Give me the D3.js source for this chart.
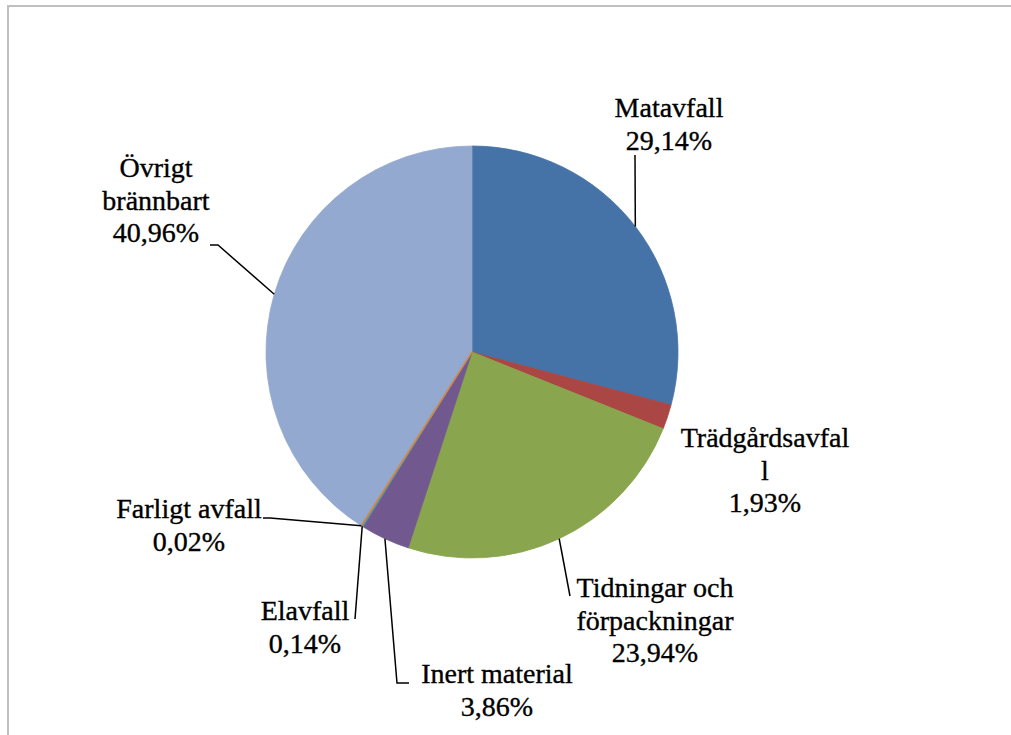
<!DOCTYPE html>
<html>
<head>
<meta charset="utf-8">
<script src="https://cdn.jsdelivr.net/npm/d3@7"></script>
<style>
  html, body { margin: 0; padding: 0; background: #fff; overflow: hidden; }
  text { font-family: "Liberation Serif", "DejaVu Serif", serif; fill: #000; stroke: #000; stroke-width: 0.35px; }
</style>
</head>
<body>
<div id="chart"></div>
<script>
// Data
const categories = ['Matavfall', 'Trädgårdsavfall', 'Tidningar och förpackningar', 'Inert material', 'Elavfall', 'Farligt avfall', 'Övrigt brännbart'];
const values = [29.14, 1.93, 23.94, 3.86, 0.14, 0.02, 40.96];
const valueLabels = ['29,14%', '1,93%', '23,94%', '3,86%', '0,14%', '0,02%', '40,96%'];
// label text lines as wrapped in the original
const labelLines = [
    ['Matavfall'],
    ['Trädgårdsavfal', 'l'],
    ['Tidningar och', 'förpackningar'],
    ['Inert material'],
    ['Elavfall'],
    ['Farligt avfall'],
    ['Övrigt', 'brännbart']
];
const colors = ['#4572A7', '#AA4643', '#89A54E', '#71588F', '#4198AF', '#DB843D', '#93A9CF'];

// Label layout (relative to pie centre): text centre x, first baseline y, leader knee/end
const labelLayout = [
    { x: 197, y: -235, leader: [[163, -197]] },
    { x: 293, y: 95, leader: null },
    { x: 183, y: 245, leader: [[98, 244]] },
    { x: 25, y: 331, leader: [[-75, 331], [-63, 331]] },
    { x: -167, y: 268, leader: [[-117, 267]] },
    { x: -283, y: 166, leader: [[-202, 166], [-209, 166]] },
    { x: -316, y: -175, leader: [[-254, -107], [-262, -107]] }
];

const W = 1011, H = 735;
const cx = 472, cy = 352, radius = 206;
const lineH = 32.5;

const svg = d3.select('#chart')
    .append('svg')
    .attr('width', W)
    .attr('height', H);

// chart area border (runs off the right and bottom edges)
svg.append('rect')
    .attr('x', 8)
    .attr('y', 6)
    .attr('width', 1200)
    .attr('height', 1000)
    .attr('fill', 'none')
    .attr('stroke', '#bfbfbf')
    .attr('stroke-width', 2);

const g = svg.append('g')
    .attr('transform', `translate(${cx},${cy})`);

const data = categories.map((c, i) => ({ name: c, value: values[i], i }));

const pie = d3.pie()
    .sort(null)
    .value(d => d.value);

const arc = d3.arc()
    .innerRadius(0)
    .outerRadius(radius);

const edge = d3.arc()
    .innerRadius(radius)
    .outerRadius(radius);

const arcs = pie(data);

g.selectAll('.slice')
    .data(arcs)
    .enter()
    .append('path')
    .attr('class', 'slice')
    .attr('d', arc)
    .attr('fill', d => colors[d.data.i])
    .attr('stroke', d => colors[d.data.i])
    .attr('stroke-width', 0.8);

// the tiniest slice shows as a thin line on top
g.selectAll('.slice')
    .filter(d => d.data.name === 'Farligt avfall')
    .attr('stroke-width', 1.4)
    .raise();

// Leader lines
g.selectAll('.leader')
    .data(arcs.filter(d => labelLayout[d.data.i].leader))
    .enter()
    .append('polyline')
    .attr('class', 'leader')
    .attr('points', d => {
        const p = edge.centroid(d);
        return [p].concat(labelLayout[d.data.i].leader).map(q => q.join(',')).join(' ');
    })
    .attr('fill', 'none')
    .attr('stroke', '#000')
    .attr('stroke-width', 1.5);

// Labels
const labels = g.selectAll('.label')
    .data(arcs)
    .enter()
    .append('text')
    .attr('class', 'label')
    .attr('text-anchor', 'middle')
    .attr('font-size', 28);

labels.each(function(d) {
    const t = d3.select(this);
    const lay = labelLayout[d.data.i];
    const lines = labelLines[d.data.i].concat([valueLabels[d.data.i]]);
    lines.forEach((s, k) => {
        t.append('tspan')
            .attr('x', lay.x)
            .attr('y', lay.y + k * lineH)
            .text(s);
    });
});
</script>
</body>
</html>
